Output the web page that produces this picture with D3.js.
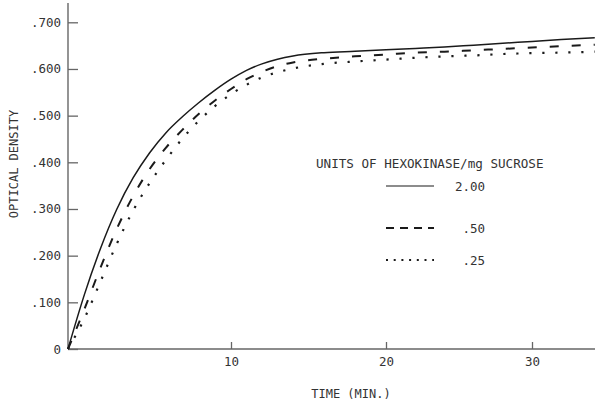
<!DOCTYPE html>
<html>
<head>
<meta charset="utf-8">
<script src="https://cdn.jsdelivr.net/npm/d3@7"></script>
<style>
  body { margin: 0; background: #fff; }
  svg { display: block; }
  text { font-family: "DejaVu Sans Mono", monospace; fill: #333; }
  .axis text { font-size: 12.5px; }
  .axis line { stroke: #666; stroke-width: 1.3; }
</style>
</head>
<body>
<svg id="chart"></svg>
<script>
// time in minutes
const times = [0, 1, 2, 3, 4, 5, 6, 7, 8, 9, 10, 11, 12, 13, 14, 16, 18, 20, 22, 24, 26, 28, 30, 32, 34.3];

// optical density, one array per hexokinase dose
const od200 = [0, 0.116, 0.216, 0.300, 0.367, 0.420, 0.463, 0.497, 0.527, 0.554, 0.578, 0.597, 0.611, 0.621, 0.628, 0.635, 0.638, 0.641, 0.644, 0.647, 0.651, 0.655, 0.659, 0.663, 0.667];
const od050 = [0, 0.085, 0.175, 0.258, 0.328, 0.385, 0.431, 0.469, 0.503, 0.532, 0.557, 0.578, 0.594, 0.606, 0.614, 0.622, 0.627, 0.631, 0.635, 0.637, 0.64, 0.643, 0.646, 0.649, 0.652];
const od025 = [0, 0.065, 0.145, 0.226, 0.297, 0.355, 0.405, 0.45, 0.488, 0.52, 0.546, 0.566, 0.582, 0.593, 0.601, 0.611, 0.616, 0.62, 0.624, 0.627, 0.629, 0.632, 0.634, 0.635, 0.637];

const doseLabels = ["2.00", ".50", ".25"];
const xTicks = [10, 20, 30];
const yTicks = [0, 0.1, 0.2, 0.3, 0.4, 0.5, 0.6, 0.7];

const config = {
  width: 595, height: 403,
  margin: {top: 3, right: 0, bottom: 54, left: 68}
};
const width = config.width - config.margin.left - config.margin.right;
const height = config.height - config.margin.top - config.margin.bottom;

const svg = d3.select("#chart")
    .attr("width", config.width)
    .attr("height", config.height);

const chart = svg.append("g")
    .attr("transform", `translate(${config.margin.left},${config.margin.top})`);

// the scanned axis is slightly compressed to the right, so use a piecewise scale
const xScale = d3.scaleLinear()
    .domain([0, 10, 20, 30])
    .range([0, 163, 318, 464]);

const yScale = d3.scaleLinear()
    .domain([0, 0.7])
    .range([height, 19.3]);

const xAxis = d3.axisBottom(xScale)
    .tickValues(xTicks)
    .tickSize(-7)
    .tickSizeOuter(0)
    .tickPadding(8);

const yAxis = d3.axisLeft(yScale)
    .tickValues(yTicks)
    .tickSize(-10)
    .tickSizeOuter(0)
    .tickPadding(7)
    .tickFormat(d => d === 0 ? "0" : d3.format(".3f")(d).replace(/^0/, ""));

chart.append("g")
    .attr("class", "axis x-axis")
    .attr("transform", `translate(0,${height})`)
    .call(xAxis);
chart.append("g")
    .attr("class", "axis y-axis")
    .call(yAxis);
chart.selectAll(".axis .domain").remove();
chart.selectAll(".axis text").attr("fill", "#333");

// plain axis lines (the y axis runs above the last tick)
chart.append("line")
    .attr("x1", 0).attr("x2", width)
    .attr("y1", height).attr("y2", height)
    .attr("stroke", "#666").attr("stroke-width", 1.4);
chart.append("line")
    .attr("x1", 0).attr("x2", 0)
    .attr("y1", 0).attr("y2", height)
    .attr("stroke", "#666").attr("stroke-width", 1.4);

// curves
const series = [
  {key: "2.00", values: od200, dash: null, legendDash: null, sw: 1.5},
  {key: ".50", values: od050, dash: "9,13", legendDash: "8,6", sw: 2},
  {key: ".25", values: od025, dash: "2.2,10.8", legendDash: "2,5.7", sw: 2.2}
];

const line = d3.line()
    .x((d, i) => xScale(times[i]))
    .y(d => yScale(d))
    .curve(d3.curveMonotoneX);

chart.selectAll(".curve")
    .data(series)
  .join("path")
    .attr("class", "curve")
    .attr("fill", "none")
    .attr("stroke", "#1a1a1a")
    .attr("stroke-width", d => d.sw)
    .attr("stroke-dasharray", d => d.dash)
    .attr("d", d => line(d.values));

// legend
svg.append("text")
    .attr("x", 316).attr("y", 168)
    .style("font-size", "12.6px")
    .text("UNITS OF HEXOKINASE/mg SUCROSE");

const legendY = [186, 228, 260];
const legend = svg.selectAll(".legend")
    .data(series)
  .join("g")
    .attr("class", "legend")
    .attr("transform", (d, i) => `translate(0,${legendY[i]})`);
legend.append("line")
    .attr("x1", 386).attr("x2", 434)
    .attr("stroke", "#1a1a1a")
    .attr("stroke-width", d => d.key === "2.00" ? 1.2 : 1.8)
    .attr("stroke-dasharray", d => d.legendDash);
legend.append("text")
    .attr("x", 485).attr("y", 5)
    .attr("text-anchor", "end")
    .style("font-size", "12.5px")
    .text((d, i) => doseLabels[i]);

// axis titles
svg.append("text")
    .attr("x", 351).attr("y", 398)
    .attr("text-anchor", "middle")
    .style("font-size", "12px")
    .text("TIME (MIN.)");

svg.append("text")
    .attr("transform", "translate(18,164) rotate(-90)")
    .attr("text-anchor", "middle")
    .style("font-size", "12px")
    .text("OPTICAL DENSITY");
</script>
</body>
</html>
